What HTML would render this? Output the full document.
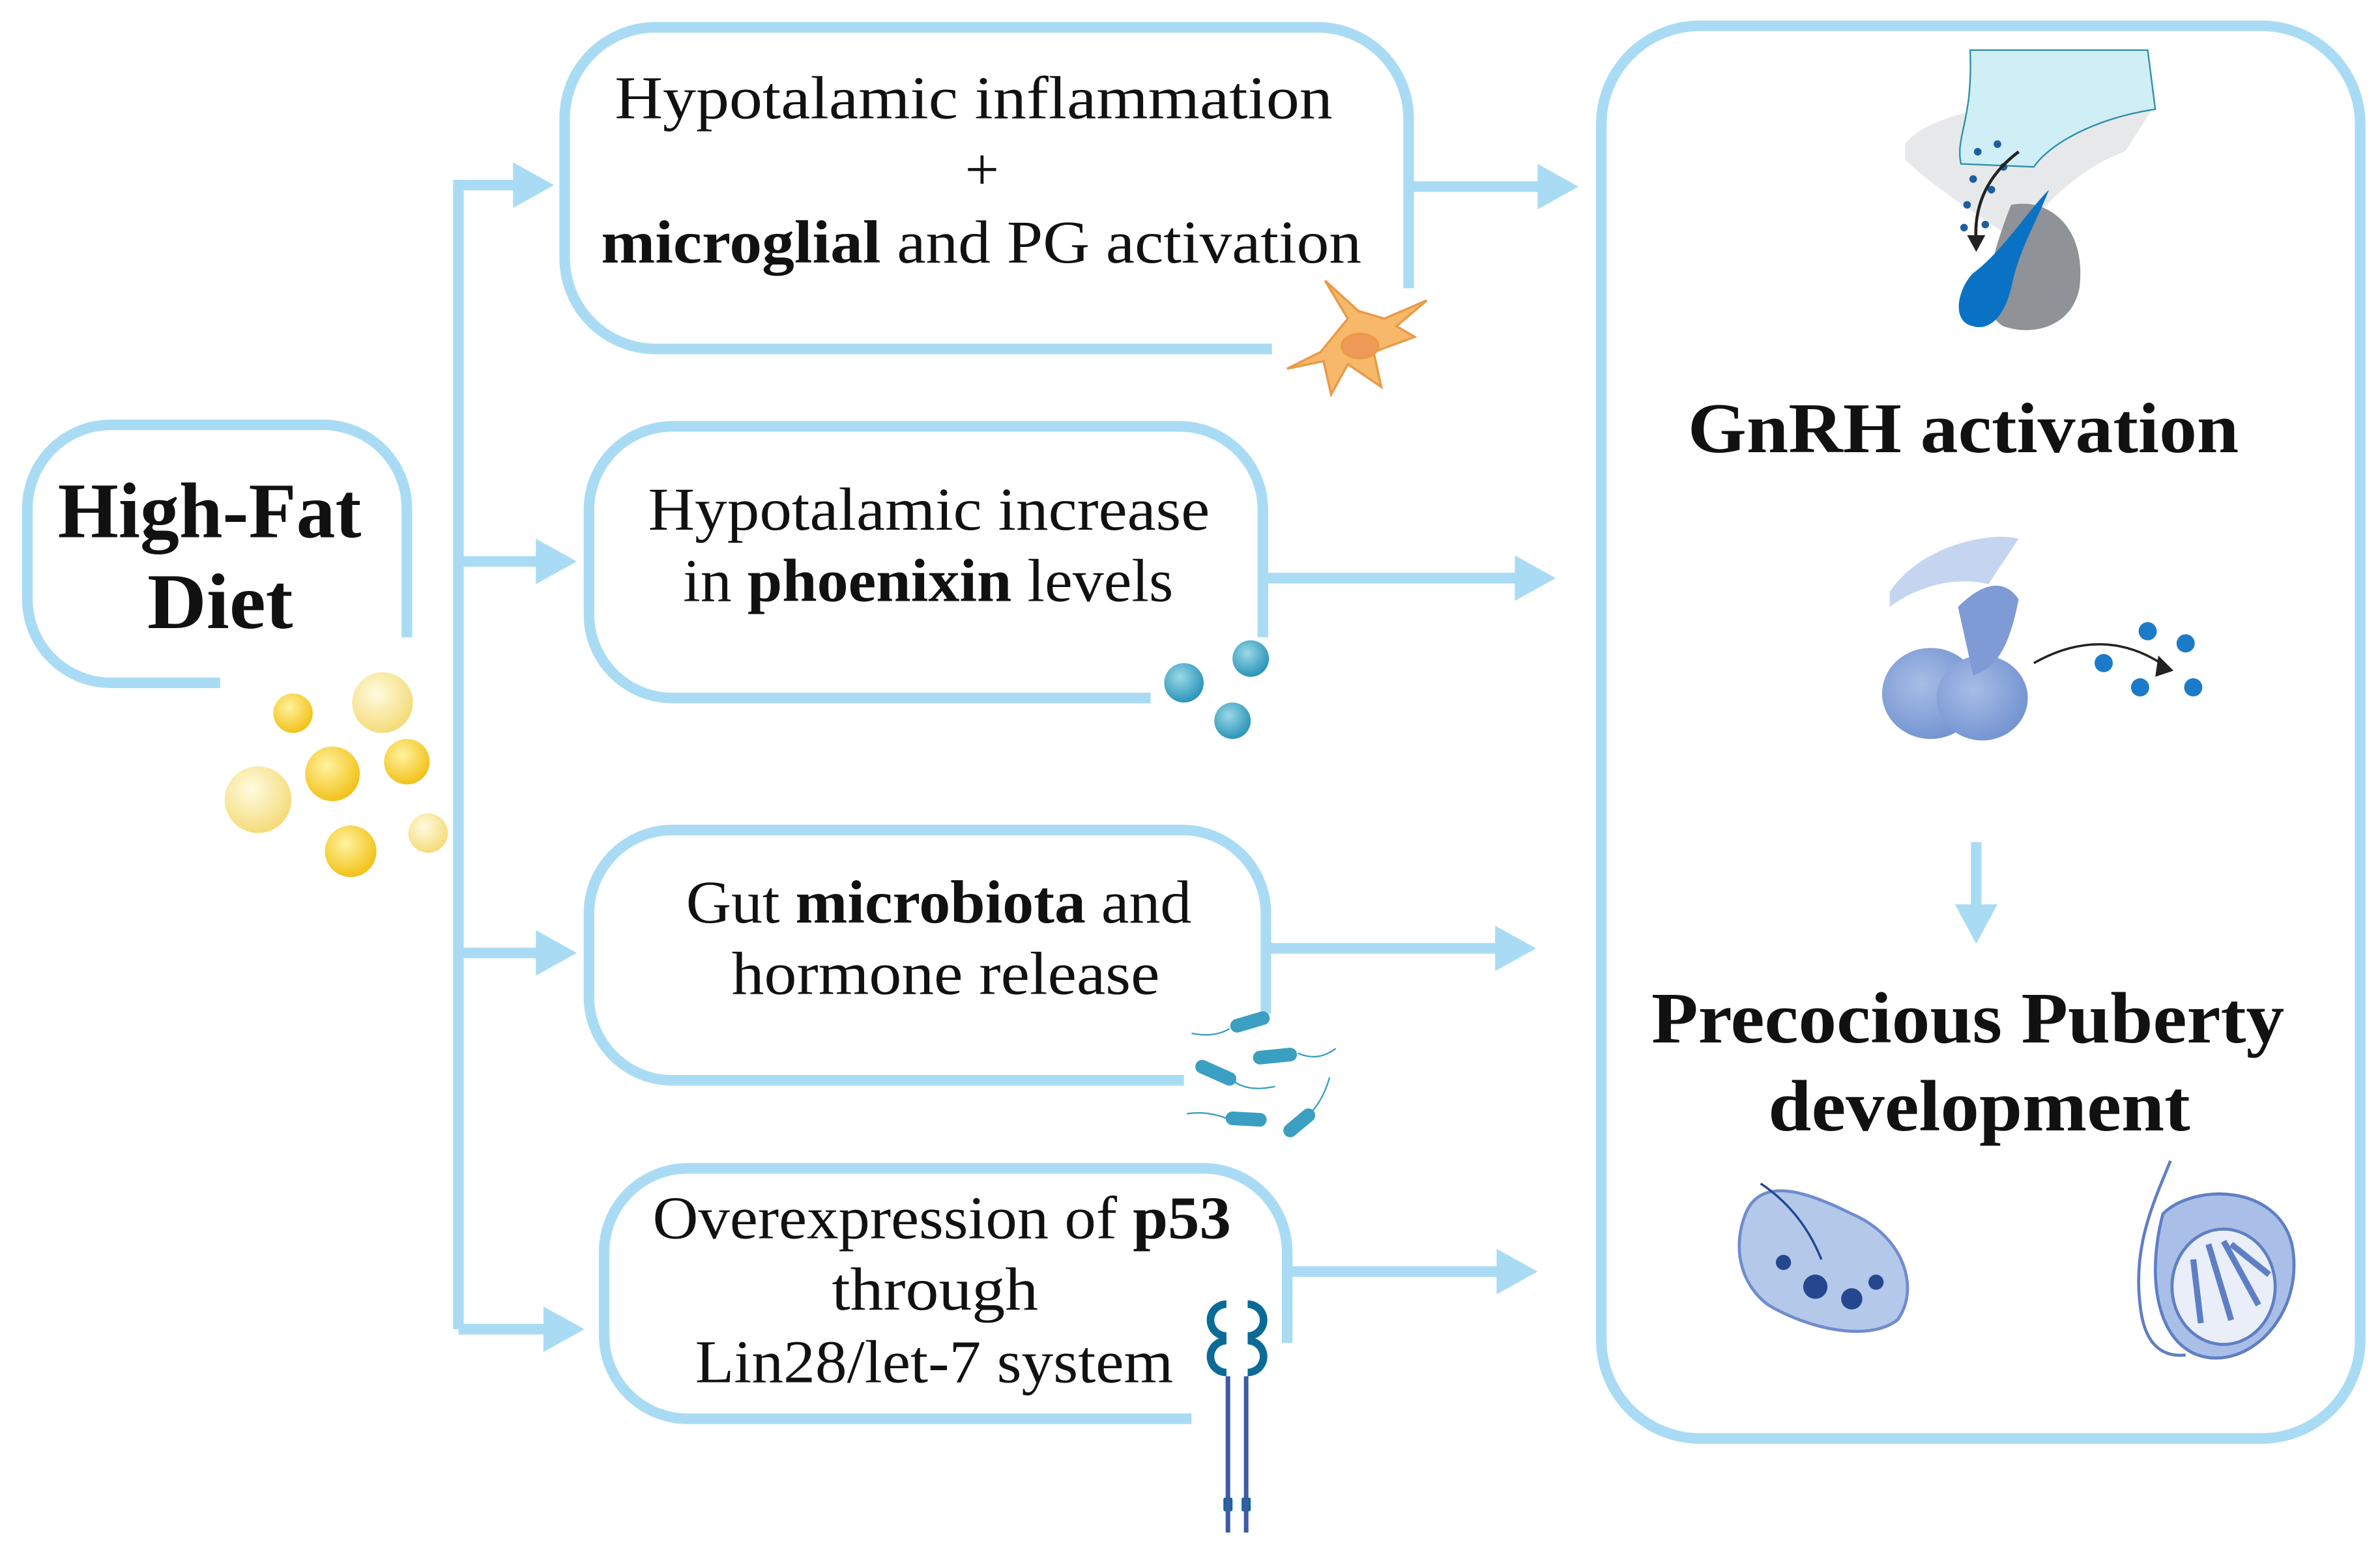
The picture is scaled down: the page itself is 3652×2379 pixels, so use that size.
<!DOCTYPE html>
<html><head><meta charset="utf-8"><style>
html,body{margin:0;padding:0;background:#fff;}
svg{display:block;}
text{font-family:"Liberation Serif",serif;fill:#111;}
</style></head><body>
<svg width="3652" height="2379" viewBox="0 0 1568 1021.5" xmlns="http://www.w3.org/2000/svg">
<defs>
<radialGradient id="fat" cx="40%" cy="35%" r="65%"><stop offset="0" stop-color="#fff3a0"/><stop offset="1" stop-color="#f2c21a"/></radialGradient>
<radialGradient id="fatl" cx="40%" cy="35%" r="65%"><stop offset="0" stop-color="#fffbe0"/><stop offset="1" stop-color="#f4dc7a"/></radialGradient>
<radialGradient id="bl" cx="40%" cy="35%" r="65%"><stop offset="0" stop-color="#9ad8e8"/><stop offset="1" stop-color="#2b95b8"/></radialGradient>
<radialGradient id="pit" cx="40%" cy="40%" r="70%"><stop offset="0" stop-color="#a7bde6"/><stop offset="1" stop-color="#6e8fcf"/></radialGradient>
</defs>
<g fill="none" stroke="#a9dcf4" stroke-width="7">
<path d="M268,420 V335 A55,55 0 0 0 213,280 H73 A55,55 0 0 0 18,335 V395 A55,55 0 0 0 73,450 H145"/>
<path d="M928,190 V78 A60,60 0 0 0 868,18 H432 A60,60 0 0 0 372,78 V170 A60,60 0 0 0 432,230 H838"/>
<path d="M832,420 V336 A55,55 0 0 0 777,281 H443 A55,55 0 0 0 388,336 V405 A55,55 0 0 0 443,460 H758"/>
<path d="M834,668 V602 A55,55 0 0 0 779,547 H443 A55,55 0 0 0 388,602 V657 A55,55 0 0 0 443,712 H780"/>
<path d="M848,885 V825 A55,55 0 0 0 793,770 H453 A55,55 0 0 0 398,825 V880 A55,55 0 0 0 453,935 H785"/>
<rect x="1055" y="17" width="500" height="931" rx="65"/>
<path d="M302,876 V122 H345"/>
<path d="M302,370 H360 M302,628 H360 M302,876 H365"/>
<path d="M930,123 H1018 M834,381 H1003 M836,625 H990 M850,838 H993"/>
<path d="M1302,555 V602"/>
</g>
<g fill="#a9dcf4">
<polygon points="338,107 365,122 338,137"/>
<polygon points="353,355 380,370 353,385"/>
<polygon points="353,613 380,628 353,643"/>
<polygon points="358,861 385,876 358,891"/>
<polygon points="1013,108 1040,123 1013,138"/>
<polygon points="998,366 1025,381 998,396"/>
<polygon points="985,610 1012,625 985,640"/>
<polygon points="986,823 1013,838 986,853"/>
<polygon points="1288,596 1302,622 1316,596"/>
</g>
<g lengthAdjust="spacingAndGlyphs">
<text x="38" y="354" font-size="52" font-weight="bold" textLength="200" lengthAdjust="spacingAndGlyphs">High-Fat</text>
<text x="97" y="414" font-size="52" font-weight="bold" textLength="96" lengthAdjust="spacingAndGlyphs">Diet</text>
<text x="405" y="78" font-size="40" textLength="473" lengthAdjust="spacingAndGlyphs">Hypotalamic inflammation</text>
<text x="647" y="125" font-size="40" text-anchor="middle">+</text>
<text x="396" y="173" font-size="40" textLength="501" lengthAdjust="spacingAndGlyphs"><tspan font-weight="bold">microglial</tspan> and PG activation</text>
<text x="427" y="349" font-size="40" textLength="370" lengthAdjust="spacingAndGlyphs">Hypotalamic increase</text>
<text x="450" y="396" font-size="40" textLength="323" lengthAdjust="spacingAndGlyphs">in <tspan font-weight="bold">phoenixin</tspan> levels</text>
<text x="452" y="608" font-size="40" textLength="333" lengthAdjust="spacingAndGlyphs">Gut <tspan font-weight="bold">microbiota</tspan> and</text>
<text x="482" y="655" font-size="40" textLength="282" lengthAdjust="spacingAndGlyphs">hormone release</text>
<text x="430" y="816" font-size="40" textLength="381" lengthAdjust="spacingAndGlyphs">Overexpression of <tspan font-weight="bold">p53</tspan></text>
<text x="548" y="863" font-size="40" textLength="136" lengthAdjust="spacingAndGlyphs">through</text>
<text x="458" y="911" font-size="40" textLength="315" lengthAdjust="spacingAndGlyphs">Lin28/let-7 system</text>
<text x="1112" y="298" font-size="47" font-weight="bold" textLength="363" lengthAdjust="spacingAndGlyphs">GnRH activation</text>
<text x="1088" y="687" font-size="48" font-weight="bold" textLength="417" lengthAdjust="spacingAndGlyphs">Precocious Puberty</text>
<text x="1165" y="745" font-size="48" font-weight="bold" textLength="278" lengthAdjust="spacingAndGlyphs">development</text>
</g>
<circle cx="252" cy="463" r="20" fill="url(#fatl)"/>
<circle cx="193" cy="470" r="13" fill="url(#fat)"/>
<circle cx="219" cy="510" r="18" fill="url(#fat)"/>
<circle cx="268" cy="502" r="15" fill="url(#fat)"/>
<circle cx="170" cy="527" r="22" fill="url(#fatl)"/>
<circle cx="231" cy="561" r="17" fill="url(#fat)"/>
<circle cx="282" cy="549" r="13" fill="url(#fatl)"/>
<g fill="#f8b86a" stroke="#e89a48" stroke-width="1.5">
<path d="M895,205 L873,185 L888,210 L870,232 L848,243 L872,238 L877,260 L888,240 L910,255 L905,232 L932,222 L920,215 L940,198 L912,210 Z"/>
<ellipse cx="896" cy="228" rx="12" ry="8" fill="#f09a5a"/>
</g>
<circle cx="824" cy="434" r="12" fill="url(#bl)"/>
<circle cx="780" cy="450" r="13" fill="url(#bl)"/>
<circle cx="812" cy="475" r="12" fill="url(#bl)"/>
<g stroke="#3a9fc0" stroke-width="9" stroke-linecap="round">
<line x1="815" y1="676" x2="832" y2="671"/>
<line x1="830" y1="697" x2="850" y2="695"/>
<line x1="792" y1="703" x2="810" y2="711"/>
<line x1="812" y1="737" x2="830" y2="738"/>
<line x1="850" y1="745" x2="862" y2="735"/>
</g>
<g stroke="#3a9fc0" stroke-width="1" fill="none">
<path d="M810,678 Q800,684 785,681"/><path d="M855,694 Q868,700 880,691"/><path d="M812,712 Q822,720 840,716"/><path d="M808,737 Q795,732 782,734"/><path d="M864,733 Q872,724 876,710"/>
</g>
<g fill="#0b6b96">
<path d="M808,857 a13,13 0 1 0 0,26 l0,-5 a8,8 0 1 1 0,-16 z"/>
<path d="M808,881 a13,13 0 1 0 0,26 l0,-5 a8,8 0 1 1 0,-16 z"/>
<path d="M822,857 a13,13 0 1 1 0,26 l0,-5 a8,8 0 1 0 0,-16 z"/>
<path d="M822,881 a13,13 0 1 1 0,26 l0,-5 a8,8 0 1 0 0,-16 z"/>
<rect x="806" y="987" width="6" height="9" rx="1"/><rect x="818" y="987" width="6" height="9" rx="1"/>
</g>
<g stroke="#3d5aa6" stroke-width="3"><line x1="809" y1="907" x2="809" y2="1010"/><line x1="821" y1="907" x2="821" y2="1010"/></g>
<path d="M1255,95 C1270,75 1330,60 1418,72 L1400,100 C1370,110 1340,140 1330,160 C1300,140 1270,120 1255,105 Z" fill="#e6e8ea"/>
<path d="M1298,33 L1415,33 L1420,72 C1380,78 1350,95 1340,110 L1292,108 C1288,90 1300,80 1298,33 Z" fill="#cfeef6" stroke="#2b8ea8" stroke-width="1"/>
<path d="M1325,135 C1350,130 1375,150 1370,190 C1365,215 1340,222 1320,215 C1300,205 1315,160 1325,135 Z" fill="#8f9296"/>
<path d="M1350,125 C1340,150 1330,165 1325,190 C1320,210 1310,218 1300,215 C1285,212 1290,190 1300,180 C1320,165 1335,140 1350,125 Z" fill="#0a72c4"/>
<g fill="#1c5f9e"><circle cx="1303" cy="100" r="2.5"/><circle cx="1316" cy="95" r="2.5"/><circle cx="1300" cy="118" r="2.5"/><circle cx="1312" cy="125" r="2.5"/><circle cx="1296" cy="135" r="2.5"/><circle cx="1308" cy="148" r="2.5"/><circle cx="1294" cy="150" r="2.5"/><circle cx="1320" cy="110" r="2.5"/></g>
<path d="M1330,100 C1310,115 1300,135 1302,160" fill="none" stroke="#222" stroke-width="2"/>
<polygon points="1296,155 1302,166 1308,155" fill="#222"/>
<path d="M1245,390 C1265,360 1310,350 1330,355 L1310,385 C1290,380 1265,385 1245,400 Z" fill="#c5d5f0"/>
<ellipse cx="1272" cy="457" rx="32" ry="30" fill="url(#pit)"/>
<ellipse cx="1306" cy="460" rx="30" ry="28" fill="url(#pit)"/>
<path d="M1290,400 C1305,385 1320,380 1330,395 C1325,420 1318,440 1300,445 Z" fill="#7e9bd6"/>
<path d="M1340,437 C1370,420 1400,420 1428,440" fill="none" stroke="#222" stroke-width="1.5"/>
<polygon points="1422,432 1432,442 1420,446" fill="#222"/>
<g fill="#1c7bc8"><circle cx="1415" cy="416" r="6"/><circle cx="1440" cy="424" r="6"/><circle cx="1386" cy="437" r="6"/><circle cx="1410" cy="453" r="6"/><circle cx="1445" cy="453" r="6"/></g>
<path d="M1150,800 C1160,775 1190,785 1220,800 C1255,815 1265,850 1250,870 C1230,885 1190,875 1165,860 C1145,845 1142,820 1150,800 Z" fill="#b4c8ea" stroke="#6f8ccb" stroke-width="2"/>
<g fill="#24478f"><circle cx="1175" cy="832" r="5"/><circle cx="1196" cy="848" r="8"/><circle cx="1220" cy="856" r="7"/><circle cx="1236" cy="845" r="5"/></g>
<path d="M1160,780 C1175,790 1190,805 1200,830" fill="none" stroke="#24478f" stroke-width="1.5"/>
<path d="M1425,800 C1445,780 1500,780 1510,820 C1518,860 1490,895 1460,895 C1425,895 1412,850 1425,800 Z" fill="#a9bfe8" stroke="#5f7fc4" stroke-width="2"/>
<ellipse cx="1465" cy="848" rx="34" ry="38" fill="#e9eef9" stroke="#5f7fc4" stroke-width="2"/>
<g stroke="#5f7fc4" stroke-width="4"><line x1="1455" y1="820" x2="1470" y2="870"/><line x1="1445" y1="830" x2="1450" y2="872"/><line x1="1465" y1="818" x2="1488" y2="860"/><line x1="1470" y1="820" x2="1495" y2="840"/></g>
<path d="M1430,765 C1420,790 1405,820 1410,860 C1412,880 1420,895 1440,893" fill="none" stroke="#5f7fc4" stroke-width="2"/>
</svg>
</body></html>
